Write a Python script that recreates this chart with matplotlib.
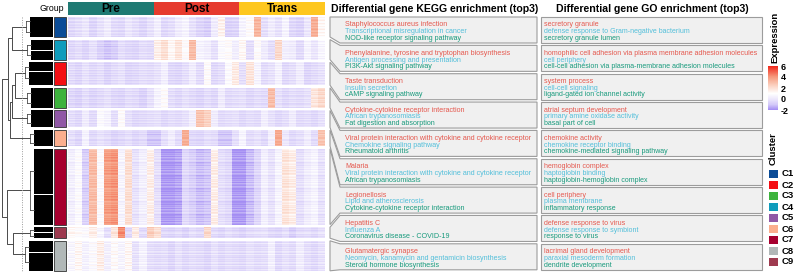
import numpy as np
import matplotlib as mpl
mpl.use('Agg')
import matplotlib.pyplot as plt
from matplotlib.colors import LinearSegmentedColormap, Normalize
from matplotlib.patches import Rectangle, Polygon
from matplotlib.cm import ScalarMappable
from matplotlib.ticker import FuncFormatter

plt.rcParams['font.family'] = ['Liberation Sans', 'DejaVu Sans']

W, H = 794, 275

# ---------------- data ----------------
groups = ['Pre', 'Post', 'Trans']
group_colors = ['#1F7A73', '#E63B2E', '#FEC71F']
samples_per_group = 12

cluster_order = ['C1', 'C4', 'C2', 'C3', 'C5', 'C6', 'C7', 'C9', 'C8']
cluster_colors = {'C1': '#0B4C97', 'C2': '#F40F14', 'C3': '#3DB33D', 'C4': '#0F9CBC',
                  'C5': '#9058A6', 'C6': '#FBAE8E', 'C7': '#A6002F', 'C8': '#B1B8B8',
                  'C9': '#9E3A4F'}
cluster_rows = [20, 20, 23, 20, 17, 16, 76, 11, 30]

# dendrogram: height of each cluster subtree, split of its two sub-branches
cluster_height = [27, 26, 28, 26, 26, 23, 23, 23, 28]
cluster_split = [0.45, 0.55, 0.4, 0.5, 0.45, 0.55, 0.6, 0.5, 0.4]
# merges between nodes (display index 0..8, new nodes from 9 on), height
merges = [(0, 1, 41), (2, 3, 38), (10, 4, 41), (11, 5, 43), (9, 12, 45),
          (7, 8, 40), (6, 14, 46), (13, 15, 51)]
cut_height = 31

# mean expression per column (12 Pre, 12 Post, 12 Trans) for each cluster
profiles = {
    'C1': [-0.5, -0.3, 0.0, -0.6, -0.2, 0.2, -0.4, -0.5, 0.0, -0.3, -0.6, -0.2,
           0.3, -0.5, -0.3, 0.2, 0.5, -0.2, -0.6, -0.8, 0.2, 1.4, -0.7, -0.6,
           0.5, 1.0, 3.2, -0.3, 0.2, -0.2, 0.5, -0.5, -0.7, 0.0, 3.4, 1.2],
    'C4': [-0.5, -0.3, -0.6, -0.2, -0.7, -1.0, -0.8, -0.3, -0.5, -0.6, -0.3, -0.4,
           1.5, 2.0, 1.2, 1.8, 1.0, 3.0, 0.5, 0.3, -0.2, 0.8, 1.0, 0.3,
           1.2, -0.3, 1.0, 0.2, -0.3, 2.2, 0.3, 0.2, -0.4, 0.5, 0.0, 0.6],
    'C2': [-0.4, -0.6, -0.2, -0.5, -0.3, -0.7, -0.4, -0.2, -0.6, -0.5, -0.3, -0.4,
           -0.2, 0.3, -0.5, -0.6, -0.3, 0.2, -0.4, 1.0, -0.5, -0.3, 0.8, 1.6,
           -0.3, 1.8, 0.5, -0.4, -0.2, 0.4, -0.5, -0.3, 0.2, -0.6, -0.4, -0.2],
    'C3': [-0.5, -0.7, -0.3, -0.6, -0.4, -0.2, -0.5, -0.6, -0.3, -0.4, -0.7, -0.2,
           0.5, 1.0, -0.3, -0.5, -0.2, -0.4, -0.6, -0.3, -0.5, 0.2, -0.4, -0.3,
           -0.2, -0.5, -0.3, -0.4, 3.0, -0.2, -0.5, -0.3, -0.4, -0.2, 1.8, 2.2],
    'C5': [-0.3, -0.5, 0.2, -0.4, 0.8, 0.5, -0.3, 1.0, -0.2, -0.5, -0.4, -0.3,
           -0.2, -0.5, -0.3, -0.4, -0.2, 0.3, 2.8, 2.4, 0.2, -0.4, -0.3, -0.2,
           -0.5, -0.3, -0.4, 0.3, -0.2, -0.5, -0.3, 0.2, -0.4, -0.3, -0.5, -0.2],
    'C6': [-0.3, -0.6, 0.4, -0.5, -0.2, -0.4, -0.7, -0.5, -0.3, -0.6, -0.4, -1.0,
           -1.0, -0.3, 0.2, -0.4, 3.4, -0.5, -0.6, -0.3, -0.4, -1.0, -1.0, -0.3,
           0.5, -0.4, -0.2, -0.5, 0.3, 3.5, 0.0, -0.5, -0.3, 0.2, -0.4, 2.8],
    'C7': [0.3, 0.8, -0.8, 3.0, 0.8, 3.8, 4.0, 0.5, 2.0, -0.2, 0.3, 1.5,
           -0.3, -1.8, -1.8, -1.6, -0.5, -0.8, -1.2, -1.0, 1.5, -0.3, -0.5, -1.8,
           -1.8, -1.2, -0.6, 0.3, -0.2, 0.5, 1.8, 1.5, -0.3, 0.2, 0.5, -0.2],
    'C9': [1.2, 1.0, 0.8, 1.5, 0.6, -0.3, 1.8, 4.2, -0.5, 1.6, -0.4, 2.5,
           2.0, -0.5, -0.6, -0.4, -0.7, -0.3, -0.5, 2.2, -0.4, -0.6, -0.3, -0.5,
           -0.7, -0.4, -0.3, -0.2, -0.5, -0.6, -0.3, -0.8, -0.4, -0.3, -0.5, -0.2],
    'C8': [0.6, 1.2, 0.4, 0.8, 1.5, 0.3, 1.0, 0.5, 1.2, -0.2, 0.4, -0.3,
           -0.4, -0.3, -0.6, -0.2, -0.5, -0.3, -0.4, -0.6, -0.2, -0.5, -0.3, -0.4,
           -0.5, -0.2, -0.4, -0.3, 0.3, -0.5, -0.2, -0.4, 0.2, -0.3, -0.5, -0.2],
}
# gene-level shifts within each cluster (cycled over rows)
row_offsets = {
    'C1': [0.2, -0.3, 0.1, 0.4, -0.1, -0.3, 0.3, 0.0, -0.2],
    'C4': [-0.1, 0.3, -0.3, 0.1, 0.3, -0.2, 0.2, -0.4, 0.2, 0.0, -0.1],
    'C2': [0.2, -0.2, 0.3, -0.3, 0.0, 0.2, -0.1, 0.4, -0.3, 0.1],
    'C3': [-0.2, 0.1, 0.3, -0.3, 0.1, -0.1, 0.3, -0.3],
    'C5': [0.3, -0.2, 0.0, 0.3, -0.3, 0.1, -0.1, 0.2, -0.3],
    'C6': [-0.3, 0.2, 0.1, -0.1, 0.3, -0.3, 0.1, 0.0, 0.3, -0.2],
    'C7': [-0.4, -0.1, 0.1, -0.3, 0.2, 0.0, 0.3, -0.2, 0.4, 0.1, -0.1, 0.4, 0.2],
    'C9': [0.4, -0.2, 0.1, -0.3, 0.0, 0.3],
    'C8': [0.2, -0.3, 0.5, -0.1, 0.0, -0.3, 0.3, -0.1, 0.1, -0.2, 0.4],
}

kegg = [
    ['Staphylococcus aureus infection', 'Transcriptional misregulation in cancer', 'NOD-like receptor signaling pathway'],
    ['Phenylalanine, tyrosine and tryptophan biosynthesis', 'Antigen processing and presentation', 'PI3K-Akt signaling pathway'],
    ['Taste transduction', 'Insulin secretion', 'cAMP signaling pathway'],
    ['Cytokine-cytokine receptor interaction', 'African trypanosomiasis', 'Fat digestion and absorption'],
    ['Viral protein interaction with cytokine and cytokine receptor', 'Chemokine signaling pathway', 'Rheumatoid arthritis'],
    ['Malaria', 'Viral protein interaction with cytokine and cytokine receptor', 'African trypanosomiasis'],
    ['Legionellosis', 'Lipid and atherosclerosis', 'Cytokine-cytokine receptor interaction'],
    ['Hepatitis C', 'Influenza A', 'Coronavirus disease - COVID-19'],
    ['Glutamatergic synapse', 'Neomycin, kanamycin and gentamicin biosynthesis', 'Steroid hormone biosynthesis'],
]
go = [
    ['secretory granule', 'defense response to Gram-negative bacterium', 'secretory granule lumen'],
    ['homophilic cell adhesion via plasma membrane adhesion molecules', 'cell periphery', 'cell-cell adhesion via plasma-membrane adhesion molecules'],
    ['system process', 'cell-cell signaling', 'ligand-gated ion channel activity'],
    ['atrial septum development', 'primary amine oxidase activity', 'basal part of cell'],
    ['chemokine activity', 'chemokine receptor binding', 'chemokine-mediated signaling pathway'],
    ['hemoglobin complex', 'haptoglobin binding', 'haptoglobin-hemoglobin complex'],
    ['cell periphery', 'plasma membrane', 'inflammatory response'],
    ['defense response to virus', 'defense response to symbiont', 'response to virus'],
    ['lacrimal gland development', 'paraxial mesoderm formation', 'dendrite development'],
]
term_colors = ['#E5584E', '#52BFDA', '#179A7C']

# ---------------- colours ----------------
cmap_vals = [-2, -1, 0, 1, 2.5, 4, 6]
cmap_cols = ['#A38CF3', '#D4CAF9', '#EDE8FC', '#FFFFFF', '#FBD0BF', '#F69B7E', '#F0261A']
norm = Normalize(-2, 6)
cmap = LinearSegmentedColormap.from_list(
    'expr', [((v + 2) / 8, c) for v, c in zip(cmap_vals, cmap_cols)])

# ---------------- layout (pixels) ----------------
fig = plt.figure(figsize=(W / 100, H / 100), dpi=100)


def px_axes(x, y, w, h):
    return fig.add_axes([x / W, 1 - (y + h) / H, w / W, h / H])


hm_x0, hm_x1 = 68, 325
top, gap = 17, 2.6
y_start = []
y = top
for n in cluster_rows:
    y_start.append(y)
    y += n + gap
y_end = [s + n for s, n in zip(y_start, cluster_rows)]

# heatmap slices
for i, cl in enumerate(cluster_order):
    prof = np.array(profiles[cl])
    offs = row_offsets[cl]
    mat = np.array([prof + offs[r % len(offs)] for r in range(cluster_rows[i])])
    ax = px_axes(hm_x0, y_start[i], hm_x1 - hm_x0, cluster_rows[i])
    ax.imshow(mat, cmap=cmap, norm=norm, aspect='auto', interpolation='nearest')
    ax.axis('off')

# overlay in pixel coordinates
ov = fig.add_axes([0, 0, 1, 1])
ov.set_xlim(0, W)
ov.set_ylim(H, 0)
ov.axis('off')

# group annotation
n_cols = samples_per_group * len(groups)
col_w = (hm_x1 - hm_x0) / n_cols
for g, (name, colr) in enumerate(zip(groups, group_colors)):
    gx = hm_x0 + g * samples_per_group * col_w
    gw = samples_per_group * col_w
    ov.add_patch(Rectangle((gx, 2), gw, 13, facecolor=colr, edgecolor='none'))
    ov.text(gx + gw / 2, 8.5, name, ha='center', va='center',
            fontsize=8.5, fontweight='bold', color='black')
ov.text(64, 8.5, 'Group', ha='right', va='center', fontsize=6.3)

# cluster annotation
for i, cl in enumerate(cluster_order):
    ov.add_patch(Rectangle((54, y_start[i]), 12, cluster_rows[i],
                           facecolor=cluster_colors[cl], edgecolor='#333333', lw=0.6))

# dendrogram
dax = px_axes(0, 0, 53, H)
dax.set_xlim(53, 0)
dax.set_ylim(H, 0)
dax.axis('off')
lc = '#4A4A4A'
nodes = []
for i in range(len(cluster_order)):
    s, e = y_start[i], y_end[i]
    h = cluster_height[i]
    mid = s + cluster_split[i] * (e - s)
    subs = [(s, mid - 0.3), (mid + 0.3, e)]
    ys = []
    for a, b in subs:
        dax.fill_betweenx([a, b], 0, h - 4, color='black', lw=0)
        ym = (a + b) / 2
        dax.plot([h - 4, h], [ym, ym], color=lc, lw=0.6)
        ys.append(ym)
    dax.plot([h, h], ys, color=lc, lw=0.6)
    nodes.append((h, sum(ys) / 2))
for a, b, h in merges:
    ha, ya = nodes[a]
    hb, yb = nodes[b]
    dax.plot([ha, h, h, hb], [ya, ya, yb, yb], color=lc, lw=0.7)
    nodes.append((h, (ya + yb) / 2))
dax.plot([cut_height, cut_height], [top, y_end[-1]], color='#9A9A9A', lw=0.7, ls=(0, (1, 1.5)))

# enrichment boxes
box_top0, box_pitch, box_h = 17, 28.35, 26
k_xl, k_xm, k_xr = 330, 340, 537
g_xl, g_xr = 541, 762
for i in range(len(cluster_order)):
    bt = box_top0 + i * box_pitch
    bb = bt + box_h
    poly = [(k_xl, y_start[i]), (k_xm, bt), (k_xr, bt), (k_xr, bb), (k_xm, bb), (k_xl, y_end[i])]
    ov.add_patch(Polygon(poly, closed=True, facecolor='#F0F0F0', edgecolor='#9C9C9C', lw=0.8))
    ov.add_patch(Rectangle((g_xl, bt), g_xr - g_xl, box_h, facecolor='#F0F0F0',
                           edgecolor='#9C9C9C', lw=0.8))
    for j in range(3):
        ty = bt + 8 + j * 6.65
        ov.text(k_xm + 5, ty, kegg[i][j], color=term_colors[j], fontsize=5.1, va='center', ha='left')
        ov.text(g_xl + 3, ty, go[i][j], color=term_colors[j], fontsize=5.0, va='center', ha='left')

ov.text(331, 9, 'Differential gene KEGG enrichment (top3)', fontsize=7.6,
        fontweight='bold', ha='left', va='center')
ov.text(556, 9, 'Differential gene GO enrichment (top3)', fontsize=7.6,
        fontweight='bold', ha='left', va='center')

# expression legend
ov.text(774.5, 37, 'Expression', rotation=90, fontsize=6.8, fontweight='bold',
        ha='center', va='center')
cax = px_axes(768, 66, 10, 44)
cb = fig.colorbar(ScalarMappable(norm=norm, cmap=cmap), cax=cax, ticks=[-2, 0, 2, 4, 6],
                  format=FuncFormatter(lambda v, p: '%d' % v))
cb.outline.set_visible(False)
cax.tick_params(length=0, labelsize=6.5, pad=2)
for t in cax.get_yticklabels():
    t.set_fontweight('bold')

# cluster legend
ov.text(773.5, 149, 'Cluster', rotation=90, fontsize=6.8, fontweight='bold',
        ha='center', va='center')
legend_names = sorted(cluster_colors)
for k, cl in enumerate(legend_names):
    ly = 169.5 + k * 11
    ov.add_patch(Rectangle((769, ly), 8.5, 8.5, facecolor=cluster_colors[cl], edgecolor='none'))
    ov.text(781.5, ly + 4.5, cl, fontsize=6.8, fontweight='bold', ha='left', va='center')

fig.savefig('out.png', dpi=100)
plt.close()
